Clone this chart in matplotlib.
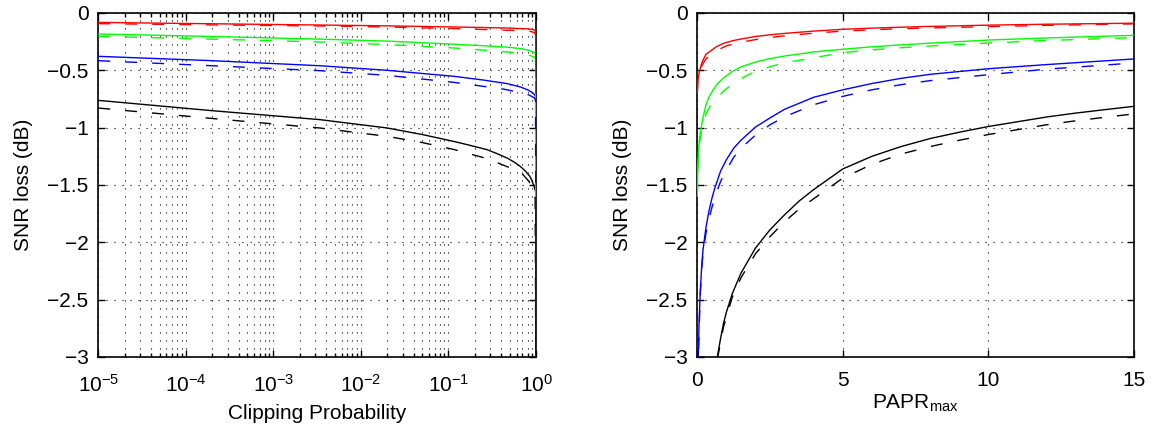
import numpy as np
import matplotlib
matplotlib.use("Agg")
import matplotlib.pyplot as plt
from matplotlib.ticker import FixedLocator, FuncFormatter, LogLocator

plt.rcParams['font.family'] = ['Liberation Sans', 'DejaVu Sans']
plt.rcParams['mathtext.fontset'] = 'custom'
plt.rcParams['mathtext.rm'] = 'Liberation Sans'
plt.rcParams['mathtext.it'] = 'Liberation Sans:italic'
plt.rcParams['mathtext.bf'] = 'Liberation Sans:bold'
plt.rcParams['mathtext.sf'] = 'Liberation Sans'

# ---- left panel: x = log10(clipping probability), y = SNR loss (dB) ----
red_exp = [-5, -3.7, -2.47, -1.70, -0.94, -0.33, -0.10, -0.03, -0.01, -0.003, 0]
red_loss = [-0.082, -0.094, -0.105, -0.112, -0.122, -0.131, -0.138, -0.145, -0.155, -0.17, -0.70]
red_d_exp = [-5, -3.7, -2.47, -1.70, -0.94, -0.18, -0.07, -0.02, -0.005, 0]
red_d_loss = [-0.093, -0.104, -0.113, -0.122, -0.136, -0.154, -0.16, -0.17, -0.19, -0.70]

green_exp = [-5, -3.7, -2.47, -1.70, -0.94, -0.5, -0.33, -0.18, -0.10, -0.05, -0.02, -0.005, 0]
green_loss = [-0.183, -0.205, -0.228, -0.245, -0.272, -0.290, -0.298, -0.31, -0.322, -0.335, -0.345, -0.36, -1.6]
green_d_exp = [-5, -3.7, -2.47, -1.70, -0.94, -0.5, -0.18, -0.07, -0.02, -0.005, 0]
green_d_loss = [-0.204, -0.228, -0.253, -0.276, -0.305, -0.33, -0.349, -0.37, -0.385, -0.40, -1.6]

blue_exp = [-5, -3.7, -2.47, -1.70, -0.94, -0.6, -0.33, -0.18, -0.10, -0.05, -0.02, -0.005, 0]
blue_loss = [-0.378, -0.416, -0.46, -0.50, -0.552, -0.585, -0.616, -0.645, -0.669, -0.69, -0.71, -0.73, -3.5]
blue_d_exp = [-5, -3.7, -2.47, -1.70, -0.94, -0.6, -0.40, -0.2, -0.08, -0.02, -0.005, 0]
blue_d_loss = [-0.416, -0.46, -0.503, -0.544, -0.605, -0.64, -0.66, -0.69, -0.715, -0.74, -0.76, -3.5]

black_exp = [-5, -4.35, -3.7, -3.1, -2.47, -2.1, -1.70, -1.3, -0.94, -0.75, -0.56, -0.45,
             -0.33, -0.25, -0.18, -0.12, -0.07, -0.05, -0.03, -0.015, -0.004, 0]
black_loss = [-0.762, -0.807, -0.852, -0.89, -0.93, -0.965, -1.003, -1.06, -1.12, -1.155, -1.192, -1.225,
              -1.265, -1.30, -1.338, -1.38, -1.425, -1.455, -1.497, -1.53, -1.56, -3.5]
black_d_exp = [-5, -3.7, -2.47, -1.70, -1.3, -0.94, -0.75, -0.56, -0.33, -0.16, -0.08, -0.03, -0.01, 0]
black_d_loss = [-0.829, -0.92, -1.003, -1.076, -1.13, -1.19, -1.23, -1.27, -1.34, -1.40, -1.47, -1.55, -1.62, -3.5]

# ---- right panel: x = PAPR_max, y = SNR loss (dB) ----
red_papr = [0, 0.02, 0.05, 0.09, 0.14, 0.2, 0.3, 0.44, 0.65, 0.9, 1.2, 1.5, 2.0, 2.5, 3.0, 4.0,
            5, 6, 7, 8, 10, 12, 15]
red_r = [-0.70, -0.60, -0.54, -0.50, -0.45, -0.41, -0.36, -0.335, -0.295, -0.265, -0.243, -0.227,
         -0.205, -0.19, -0.178, -0.158, -0.142, -0.132, -0.124, -0.117, -0.106, -0.098, -0.089]
red_d_papr = [0, 0.02, 0.05, 0.09, 0.14, 0.2, 0.3, 0.44, 0.65, 1.0, 1.5, 2.0, 2.5, 3.0, 4.0,
              5, 6, 7, 8, 10, 12, 15]
red_d_r = [-0.70, -0.61, -0.55, -0.51, -0.47, -0.44, -0.40, -0.37, -0.33, -0.287, -0.255, -0.232,
           -0.214, -0.199, -0.176, -0.158, -0.146, -0.137, -0.13, -0.119, -0.108, -0.095]

green_papr = [0, 0.02, 0.05, 0.1, 0.15, 0.2, 0.3, 0.4, 0.55, 0.7, 0.9, 1.2, 1.5, 2.0, 2.5, 3.0,
              4.0, 5.0, 6, 7, 8, 10, 12, 15]
green_r = [-1.6, -1.35, -1.17, -1.05, -0.98, -0.91, -0.80, -0.735, -0.669, -0.615, -0.567, -0.51,
           -0.47, -0.428, -0.398, -0.375, -0.34, -0.316, -0.295, -0.278, -0.263, -0.236, -0.218, -0.195]
green_d_papr = [0, 0.02, 0.05, 0.1, 0.15, 0.2, 0.3, 0.44, 0.6, 0.9, 1.2, 1.7, 2.0, 2.5, 3.0,
                4.0, 5.0, 6, 7, 8, 10, 12, 15]
green_d_r = [-1.6, -1.38, -1.22, -1.10, -1.02, -0.96, -0.88, -0.814, -0.76, -0.683, -0.62, -0.545,
             -0.51, -0.468, -0.435, -0.39, -0.346, -0.322, -0.303, -0.288, -0.262, -0.24, -0.215]

blue_papr = [0, 0.035, 0.06, 0.1, 0.15, 0.2, 0.3, 0.4, 0.5, 0.6, 0.8, 1.0, 1.25, 1.5, 2.0, 2.5,
             3.0, 4.0, 5.0, 6.0, 7.0, 8.0, 10, 12, 15]
blue_r = [-3.4, -3.0, -2.72, -2.45, -2.22, -2.06, -1.87, -1.73, -1.62, -1.53, -1.38, -1.28, -1.18,
          -1.11, -0.995, -0.915, -0.84, -0.735, -0.67, -0.615, -0.57, -0.535, -0.486, -0.45, -0.401]
blue_d_papr = [0, 0.05, 0.1, 0.15, 0.2, 0.3, 0.4, 0.5, 0.6, 0.8, 1.0, 1.25, 1.5, 2.0, 2.5, 3.0,
               4.0, 5.0, 6, 7, 8, 10, 12, 15]
blue_d_r = [-3.4, -2.9, -2.47, -2.24, -2.09, -1.92, -1.80, -1.70, -1.61, -1.47, -1.37, -1.26, -1.18,
            -1.065, -0.975, -0.905, -0.80, -0.727, -0.67, -0.625, -0.59, -0.538, -0.49, -0.436]

black_papr = [0.69, 0.8, 0.9, 1.0, 1.2, 1.5, 2.0, 2.5, 3.0, 3.5, 4.0, 5.0, 6.0, 7.0, 8.0, 9.0,
              10, 12, 13, 14, 15]
black_r = [-3.0, -2.84, -2.71, -2.61, -2.45, -2.27, -2.05, -1.89, -1.76, -1.64, -1.54, -1.36,
           -1.25, -1.165, -1.095, -1.04, -0.99, -0.907, -0.873, -0.843, -0.814]
black_d_papr = [0.69, 0.9, 1.2, 1.5, 2.0, 2.5, 3.0, 3.5, 4.0, 5, 6, 7, 8, 9, 10, 12, 13, 15]
black_d_r = [-3.02, -2.74, -2.48, -2.31, -2.10, -1.95, -1.82, -1.71, -1.62, -1.44, -1.32, -1.23,
             -1.165, -1.11, -1.06, -0.975, -0.94, -0.88]

y_ticks = [-3, -2.5, -2, -1.5, -1, -0.5, 0]
papr_ticks = [0, 5, 10, 15]

DASH = (0, (8.6, 10.8))
DOT_GRID = dict(color='black', linestyle=(0, (1.0, 6.2)), linewidth=0.8)


def fmt_y(v, pos):
    return ('%g' % v).replace('-', '\u2212')


def style_axes(ax):
    for sp in ax.spines.values():
        sp.set_linewidth(1.2)
    ax.tick_params(which='both', direction='in', top=True, right=True,
                   labelsize=15, pad=7, width=1.0)
    ax.tick_params(which='major', length=5)
    ax.tick_params(which='minor', length=3)
    ax.set_ylim(-3, 0)
    ax.yaxis.set_major_locator(FixedLocator(y_ticks))
    ax.yaxis.set_major_formatter(FuncFormatter(fmt_y))
    ax.set_ylabel('SNR loss (dB)', fontsize=15, labelpad=10)


fig = plt.figure(figsize=(11.54, 4.30), dpi=100)
ax1 = fig.add_axes([0.0852, 0.1698, 0.3793, 0.8])
ax2 = fig.add_axes([0.6042, 0.1698, 0.3784, 0.8])

# left panel
curves = [
    (black_exp, black_loss, black_d_exp, black_d_loss, 'black'),
    (blue_exp, blue_loss, blue_d_exp, blue_d_loss, 'blue'),
    (green_exp, green_loss, green_d_exp, green_d_loss, (0, 1, 0)),
    (red_exp, red_loss, red_d_exp, red_d_loss, 'red'),
]
for xs, ys, xd, yd, c in curves:
    ax1.plot(np.power(10.0, xs), ys, color=c, lw=1.0, zorder=3)
for xs, ys, xd, yd, c in curves:
    ax1.plot(np.power(10.0, xd), yd, color=c, lw=1.0, linestyle=DASH, zorder=4)

ax1.set_xscale('log')
ax1.set_xlim(1e-5, 1)
ax1.xaxis.set_major_locator(LogLocator(base=10, numticks=10))
ax1.xaxis.set_minor_locator(LogLocator(base=10, subs=np.arange(2, 10), numticks=10))
ax1.grid(which='major', **DOT_GRID)
ax1.grid(which='minor', axis='x', **DOT_GRID)
style_axes(ax1)
ax1.tick_params(axis='x', which='both', pad=12)
ax1.set_xlabel('Clipping Probability', fontsize=15, labelpad=6)

# right panel
rcurves = [
    (black_papr, black_r, black_d_papr, black_d_r, 'black'),
    (blue_papr, blue_r, blue_d_papr, blue_d_r, 'blue'),
    (green_papr, green_r, green_d_papr, green_d_r, (0, 1, 0)),
    (red_papr, red_r, red_d_papr, red_d_r, 'red'),
]
for xs, ys, xd, yd, c in rcurves:
    ax2.plot(xs, ys, color=c, lw=1.0, zorder=3)
    ax2.plot(xd, yd, color=c, lw=1.0, linestyle=DASH, zorder=4)

ax2.set_xlim(0, 15)
ax2.xaxis.set_major_locator(FixedLocator(papr_ticks))
ax2.grid(which='major', **DOT_GRID)
style_axes(ax2)
ax2.tick_params(axis='x', which='both', pad=10)
ax2.set_xlabel(r'PAPR$_{\mathrm{max}}$', fontsize=15, labelpad=2)

fig.savefig('out.png', dpi=100)
